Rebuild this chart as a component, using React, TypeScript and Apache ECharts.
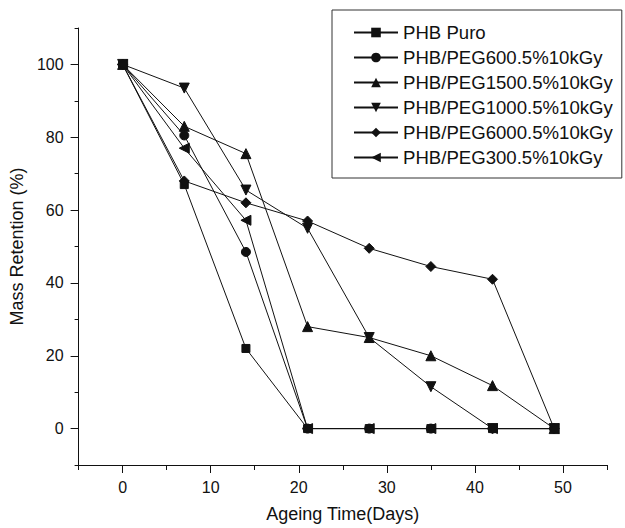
import React, { useEffect, useRef } from "react";
import * as echarts from "echarts";

const days = [0, 7, 14, 21, 28, 35, 42, 49];
const seriesNames = [
  "PHB Puro",
  "PHB/PEG600.5%10kGy",
  "PHB/PEG1500.5%10kGy",
  "PHB/PEG1000.5%10kGy",
  "PHB/PEG6000.5%10kGy",
  "PHB/PEG300.5%10kGy",
];
const phbPuro = [100, 67, 22, 0, 0, 0, 0, 0];
const peg600 = [100, 80.5, 48.5, 0, 0, 0, 0, 0];
const peg1500 = [100, 83, 75.5, 28, 25, 20, 11.8, 0];
const peg1000 = [100, 93.5, 65.5, 55, 25, 11.5, 0, 0];
const peg6000 = [100, 68, 62, 57, 49.5, 44.5, 41, 0];
const peg300 = [100, 77, 57.2, 0, 0, 0, 0, 0];
const seriesValues = [phbPuro, peg600, peg1500, peg1000, peg6000, peg300];
const xMajorTicks = [0, 10, 20, 30, 40, 50];
const yMajorTicks = [0, 20, 40, 60, 80, 100];

const symbols = ["rect", "circle", "triangle", "triangle", "diamond", "triangle"];
const symbolRotates = [0, 0, 0, 180, 0, 90];
const symbolSizes = [8, 9, 10, 10, 10, 10];

const FONT = "Liberation Sans, Arial, Helvetica, sans-serif";
const INK = "#111";

export default function App() {
  const ref = useRef<HTMLDivElement>(null);
  useEffect(() => {
    document.body.style.margin = "0";
    const chart = echarts.init(ref.current!, null, { renderer: "svg" });
    const series = seriesNames.map((name, i) => ({
      name,
      type: "line",
      xAxisIndex: 0,
      yAxisIndex: 0,
      data: days.map((d, j) => [d, seriesValues[i][j]]),
      symbol: symbols[i],
      symbolRotate: symbolRotates[i],
      symbolSize: symbolSizes[i],
      showSymbol: true,
      lineStyle: { color: INK, width: 1 },
      itemStyle: { color: INK, borderColor: INK },
      emphasis: { disabled: true },
    }));
    chart.setOption({
      animation: false,
      textStyle: { fontFamily: FONT },
      grid: { left: 77, right: 18, top: 28, bottom: 63, containLabel: false },
      legend: {
        orient: "vertical",
        left: 332,
        top: 10,
        padding: [13, 9, 11, 21],
        itemWidth: 44,
        itemHeight: 12,
        itemGap: 6,
        borderColor: "#333",
        borderWidth: 1,
        borderRadius: 0,
        textStyle: { fontSize: 18.6, lineHeight: 18, color: INK, fontFamily: FONT },
        data: seriesNames,
        selectedMode: false,
      },
      xAxis: [
        {
          type: "value",
          min: -5,
          max: 55,
          interval: 5,
          position: "bottom",
          name: "Ageing Time(Days)",
          nameLocation: "middle",
          nameGap: 40,
          nameTextStyle: { fontSize: 18, color: INK, fontFamily: FONT },
          axisLine: { show: true, onZero: false, lineStyle: { color: INK, width: 1 } },
          axisTick: { show: true, inside: false, length: 5, lineStyle: { color: INK } },
          axisLabel: {
            fontSize: 16,
            color: INK,
            margin: 14,
            fontFamily: FONT,
            formatter: (v: number) => (xMajorTicks.includes(v) ? String(v) : ""),
          },
          splitLine: { show: false },
        },
        {
          type: "value",
          min: -5,
          max: 55,
          position: "bottom",
          axisLine: { show: false, onZero: false },
          axisTick: { show: true, inside: false, length: 8, customValues: xMajorTicks, lineStyle: { color: INK } },
          axisLabel: { show: false },
          splitLine: { show: false },
        },
      ],
      yAxis: [
        {
          type: "value",
          min: -10,
          max: 110,
          interval: 10,
          position: "left",
          name: "Mass Retention (%)",
          nameLocation: "middle",
          nameGap: 50,
          nameRotate: 90,
          nameTextStyle: { fontSize: 18, color: INK, fontFamily: FONT },
          axisLine: { show: true, onZero: false, lineStyle: { color: INK, width: 1 } },
          axisTick: { show: true, inside: false, length: 4, lineStyle: { color: INK } },
          axisLabel: {
            fontSize: 16,
            color: INK,
            margin: 15,
            fontFamily: FONT,
            formatter: (v: number) => (yMajorTicks.includes(v) ? String(v) : ""),
          },
          splitLine: { show: false },
        },
        {
          type: "value",
          min: -10,
          max: 110,
          position: "left",
          axisLine: { show: false, onZero: false },
          axisTick: { show: true, inside: false, length: 8, customValues: yMajorTicks, lineStyle: { color: INK } },
          axisLabel: { show: false },
          splitLine: { show: false },
        },
      ],
      series,
    });
    return () => chart.dispose();
  }, []);
  return <div ref={ref} style={{ width: 625, height: 528 }} />;
}
